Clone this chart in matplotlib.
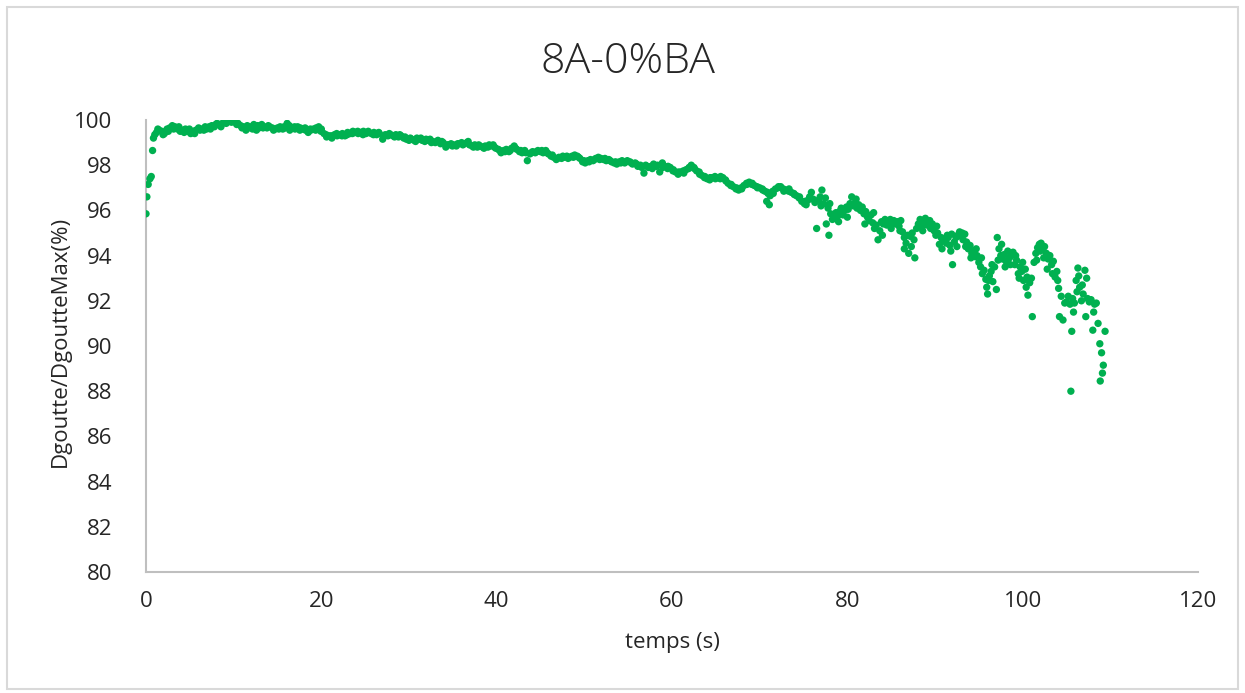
import matplotlib
matplotlib.use("Agg")
import matplotlib.pyplot as plt
from matplotlib.patches import Rectangle

# ---- data (time in s, Dgoutte/DgoutteMax in %) ----
t_rise = [0.0, 0.1, 0.25, 0.45, 0.6, 0.75, 0.85, 1.0]
v_rise = [95.85, 96.6, 97.15, 97.4, 97.5, 98.65, 99.2, 99.35]

t_plateau = [1.2, 1.5, 1.8, 2.1, 2.4, 2.7, 3.0, 3.3, 3.6, 3.9, 4.2, 4.5, 4.8, 5.1, 5.4, 5.7,
             6.0, 6.3, 6.6, 6.9, 7.2, 7.5, 7.8, 8.1, 8.4, 8.7, 9.0, 9.3, 9.6, 9.9, 10.2, 10.5,
             10.8, 11.1, 11.4, 11.7, 12.0, 12.3, 12.6, 12.9, 13.2, 13.5, 13.8, 14.1, 14.4, 14.7,
             15.0, 15.3, 15.6, 15.9, 16.1, 16.4, 16.7, 17.0, 17.3, 17.6, 17.9, 18.2, 18.5, 18.8,
             19.1, 19.4, 19.7, 20.0, 20.3, 20.6, 20.9, 21.2, 21.5, 21.8, 22.1, 22.4, 22.7, 23.0,
             23.3, 23.6, 23.9, 24.2, 24.5, 24.8, 25.1, 25.4, 25.7, 26.0, 26.3, 26.6, 27.0, 27.3,
             27.6, 27.9, 28.2, 28.5, 28.8, 29.1, 29.4, 29.7]
v_plateau = [99.45, 99.55, 99.5, 99.4, 99.6, 99.65, 99.75, 99.7, 99.6, 99.5, 99.55, 99.6, 99.5,
             99.4, 99.5, 99.55, 99.65, 99.6, 99.55, 99.6, 99.7, 99.75, 99.7, 99.85, 99.8, 99.85,
             99.9, 99.95, 100.0, 99.95, 99.9, 99.85, 99.75, 99.7, 99.55, 99.65, 99.7, 99.8, 99.55,
             99.65, 99.8, 99.7, 99.65, 99.7, 99.65, 99.6, 99.65, 99.7, 99.6, 99.65, 99.85, 99.55,
             99.65, 99.6, 99.7, 99.65, 99.6, 99.55, 99.45, 99.55, 99.6, 99.65, 99.7, 99.6, 99.4,
             99.25, 99.3, 99.2, 99.35, 99.3, 99.35, 99.4, 99.3, 99.45, 99.4, 99.5, 99.45, 99.4,
             99.45, 99.5, 99.4, 99.45, 99.4, 99.45, 99.35, 99.4, 99.15, 99.35, 99.3, 99.35, 99.3,
             99.35, 99.25, 99.3, 99.2, 99.15]

t_decline = [30.0, 30.3, 30.6, 30.9, 31.2, 31.5, 31.8, 32.1, 32.4, 32.7, 33.0, 33.3, 33.6, 33.9,
             34.2, 34.5, 34.8, 35.1, 35.4, 35.7, 36.0, 36.3, 36.6, 36.9, 37.2, 37.5, 37.8, 38.1,
             38.4, 38.7, 39.0, 39.3, 39.6, 39.9, 40.2, 40.5, 40.8, 41.1, 41.4, 41.7, 42.0, 42.3,
             42.6, 42.9, 43.2, 43.5, 43.8, 44.1, 44.4, 44.7, 45.0, 45.3, 45.6, 45.9, 46.2, 46.5,
             46.8, 47.1, 47.4, 47.7, 48.0, 48.3, 48.6, 48.9, 49.2, 49.5, 49.8, 50.1, 50.4, 50.7,
             51.0, 51.3, 51.6, 51.9, 52.2, 52.5, 52.8, 53.1, 53.4, 53.7, 54.0, 54.3, 54.6, 54.9,
             55.2, 55.5, 55.8, 56.1, 56.4, 56.8, 57.0, 57.3, 57.6, 57.9, 58.2, 58.6, 58.9, 59.2,
             59.5, 59.8, 60.1, 60.4, 60.7, 61.0, 61.3, 61.6, 61.9, 62.2, 62.5, 62.8, 63.1, 63.4,
             63.7, 64.0, 64.3, 64.6, 64.9, 65.2, 65.5, 65.8, 66.1, 66.4, 66.7, 67.0, 67.3, 67.6,
             67.9, 68.2, 68.5, 68.8, 69.1, 69.4, 69.7, 70.0, 70.3, 70.6, 70.8, 70.9, 71.1, 71.2,
             71.5, 71.8, 72.1, 72.4, 72.7, 73.0, 73.3, 73.6, 73.9, 74.2, 74.5, 74.8, 75.1]
v_decline = [99.1, 99.15, 99.1, 99.2, 99.15, 99.1, 99.05, 99.1, 99.15, 99.05, 99.0, 99.1, 98.95,
             99.0, 98.8, 98.9, 98.95, 98.9, 98.85, 98.95, 99.0, 98.95, 99.0, 98.9, 98.85, 98.9,
             98.8, 98.85, 98.8, 98.85, 98.8, 98.85, 98.9, 98.75, 98.7, 98.55, 98.65, 98.7, 98.6,
             98.75, 98.85, 98.7, 98.6, 98.55, 98.65, 98.2, 98.5, 98.6, 98.55, 98.65, 98.6, 98.55,
             98.65, 98.5, 98.4, 98.35, 98.25, 98.35, 98.3, 98.35, 98.4, 98.35, 98.4, 98.45, 98.4,
             98.3, 98.15, 98.1, 98.2, 98.25, 98.2, 98.3, 98.35, 98.3, 98.25, 98.2, 98.25, 98.15,
             98.1, 98.05, 98.15, 98.2, 98.1, 98.2, 98.15, 98.05, 98.1, 97.95, 98.0, 97.65, 98.0,
             97.9, 97.95, 98.05, 97.95, 97.7, 98.1, 97.95, 97.85, 97.9, 97.75, 97.7, 97.6, 97.7,
             97.75, 97.8, 97.85, 98.0, 97.9, 97.75, 97.7, 97.55, 97.45, 97.4, 97.35, 97.45, 97.5,
             97.45, 97.4, 97.45, 97.35, 97.2, 97.1, 97.05, 96.95, 96.9, 97.0, 97.1, 97.2, 97.25,
             97.15, 97.1, 97.05, 97.0, 96.95, 96.85, 96.4, 96.8, 96.25, 96.65, 96.85, 96.95, 97.0,
             97.05, 96.95, 96.9, 96.85, 96.8, 96.75, 96.65, 96.55, 96.4, 96.3]

# second pass of samples through the same band (the band is several points thick)
t_band = [1.35, 1.95, 2.55, 3.15, 3.75, 4.35, 4.95, 5.55, 6.15, 6.75,
          7.35, 7.95, 8.55, 9.15, 9.75, 10.35, 10.95, 11.55, 12.15, 12.75,
          13.35, 13.95, 14.55, 15.15, 15.75, 16.35, 16.95, 17.55, 18.15, 18.75,
          19.35, 19.95, 20.55, 21.15, 21.75, 22.35, 22.95, 23.55, 24.15, 24.75,
          25.35, 25.95, 26.55, 27.15, 27.75, 28.35, 28.95, 29.55, 30.15, 30.75,
          31.35, 31.95, 32.55, 33.15, 33.75, 34.35, 34.95, 35.55, 36.15, 36.75,
          37.35, 37.95, 38.55, 39.15, 39.75, 40.35, 40.95, 41.55, 42.15, 42.75,
          43.35, 43.95, 44.55, 45.15, 45.75, 46.35, 46.95, 47.55, 48.15, 48.75,
          49.35, 49.95, 50.55, 51.15, 51.75, 52.35, 52.95, 53.55, 54.15, 54.75,
          55.35, 55.95, 56.55, 57.15, 57.75, 58.35, 58.95, 59.55, 60.15, 60.75,
          61.35, 61.95, 62.55, 63.15, 63.75, 64.35, 64.95, 65.55, 66.15, 66.75,
          67.35, 67.95, 68.55, 69.15, 69.75, 70.35, 70.95, 71.55, 72.15, 72.75,
          73.35, 73.95, 74.55, 75.15]
v_band = [99.6, 99.35, 99.5, 99.6, 99.7, 99.45, 99.6, 99.4, 99.55, 99.7,
          99.6, 99.8, 99.7, 99.85, 99.9, 99.8, 99.65, 99.75, 99.6, 99.75,
          99.65, 99.75, 99.55, 99.6, 99.7, 99.75, 99.7, 99.55, 99.65, 99.6,
          99.55, 99.5, 99.35, 99.3, 99.4, 99.3, 99.35, 99.4, 99.5, 99.35,
          99.5, 99.35, 99.45, 99.3, 99.4, 99.25, 99.35, 99.25, 99.2, 99.05,
          99.2, 99.15, 99.0, 99.05, 99.05, 98.9, 98.85, 98.95, 98.9, 99.05,
          98.8, 98.9, 98.75, 98.9, 98.8, 98.65, 98.6, 98.65, 98.75, 98.65,
          98.55, 98.55, 98.6, 98.65, 98.55, 98.45, 98.3, 98.4, 98.3, 98.35,
          98.35, 98.2, 98.15, 98.25, 98.25, 98.3, 98.2, 98.15, 98.1, 98.15,
          98.1, 98.05, 97.9, 97.95, 97.85, 98.0, 97.9, 97.95, 97.8, 97.7,
          97.65, 97.9, 97.85, 97.6, 97.5, 97.45, 97.4, 97.5, 97.3, 97.15,
          97.0, 96.95, 97.15, 97.2, 97.0, 96.9, 96.75, 96.75, 97.05, 96.85,
          96.95, 96.7, 96.6, 96.4]

t_tail = [75.3, 75.5, 75.7, 75.9, 76.1, 76.3, 76.5, 76.7, 76.9, 77.1, 77.3, 77.5, 77.6, 77.8,
          77.9, 78.1, 78.3, 78.5, 78.7, 78.9, 79.1, 79.3, 79.5, 79.7, 79.9, 80.1, 80.3, 80.5,
          80.7, 80.9, 81.1, 81.3, 81.5, 81.7, 81.9, 82.1, 82.3, 82.5, 82.7, 82.9, 83.1, 83.3,
          83.5, 83.7, 83.9, 84.1, 84.3, 84.5, 84.7, 84.9, 85.1, 85.3, 85.5, 85.7, 85.9, 86.1,
          86.3, 86.5, 86.7, 86.9, 87.0, 87.2, 87.4, 87.6, 87.7, 87.9, 88.1, 88.3, 88.5, 88.7,
          88.9, 89.1, 89.3, 89.5, 89.7, 89.9, 90.1, 90.3, 90.5, 90.7, 90.9, 91.1, 91.3, 91.5,
          91.7, 91.9, 92.0, 92.2, 92.4, 92.6, 92.8, 93.0, 93.2, 93.4, 93.6, 93.8, 94.0, 94.2,
          94.4, 94.6, 94.8, 95.0, 95.2, 95.4, 95.6, 95.8, 95.9, 96.0, 96.2, 96.4, 96.6, 96.8,
          97.0, 97.1, 97.3, 97.5, 97.7, 97.9, 98.1, 98.3, 98.5, 98.7, 98.9, 99.1, 99.3, 99.5,
          99.7, 99.9, 100.1, 100.3, 100.5, 100.6, 100.8, 101.0, 101.1, 101.3, 101.5, 101.7,
          101.9, 102.1, 102.3, 102.5, 102.7, 102.9, 103.1, 103.3, 103.5, 103.7, 103.9, 104.1,
          104.2, 104.4, 104.6, 104.8, 105.0, 105.2, 105.4, 105.5, 105.6, 105.7, 105.9, 106.1,
          106.3, 106.4, 106.5, 106.7, 106.9, 107.1, 107.2, 107.4, 107.6, 107.8, 108.0, 108.2,
          108.4, 108.6, 108.8, 108.85, 109.0, 109.1, 109.2, 109.4]
v_tail = [96.25, 96.45, 96.6, 96.8, 96.5, 96.35, 95.2, 96.45, 96.6, 96.9, 96.3, 96.55, 95.4, 96.1,
          94.9, 95.85, 95.6, 95.7, 95.9, 95.75, 95.95, 96.1, 95.8, 96.0, 96.15, 96.05, 96.3, 96.6,
          96.2, 96.35, 96.1, 96.25, 96.0, 96.15, 95.85, 95.95, 95.7, 95.55, 95.8, 95.45, 95.2,
          95.35, 94.7, 95.1, 95.5, 95.4, 95.6, 95.35, 95.5, 95.6, 95.45, 95.55, 95.4, 95.5, 95.3,
          95.55, 95.05, 94.8, 94.55, 94.9, 94.1, 94.85, 95.0, 94.7, 93.9, 95.2, 95.4, 95.6, 95.3,
          95.45, 95.65, 95.35, 95.5, 95.2, 95.4, 95.1, 94.9, 95.0, 94.5, 94.8, 94.65, 94.7, 94.55,
          94.8, 94.45, 94.95, 93.6, 94.6, 94.8, 94.9, 95.05, 94.85, 94.7, 94.95, 94.6, 94.3, 94.45,
          94.1, 94.2, 93.95, 94.0, 93.7, 93.5, 93.2, 93.35, 92.95, 92.6, 92.3, 93.1, 93.3, 92.85,
          93.5, 92.5, 94.8, 94.3, 94.0, 93.85, 94.05, 93.75, 94.2, 93.9, 94.0, 94.15, 93.6, 93.8,
          93.2, 93.5, 93.3, 92.9, 93.4, 93.05, 92.25, 92.8, 93.0, 91.3, 93.7, 94.1, 94.35, 94.5,
          94.55, 94.3, 94.4, 94.1, 93.85, 94.0, 93.6, 93.75, 93.05, 93.3, 92.55, 91.3, 92.2,
          91.15, 91.9, 91.95, 92.2, 91.85, 88.0, 90.65, 92.1, 91.9, 92.9, 93.45, 93.1, 92.6, 92.0,
          92.3, 93.35, 91.3, 92.1, 91.95, 92.05, 90.7, 91.85, 91.9, 91.0, 90.1, 88.45, 89.7,
          88.8, 89.15, 90.65]

# extra scattered samples in the noisy end of the run
t_extra = [77.0, 78.0, 79.0, 80.0, 81.0, 82.0, 83.0, 84.0, 85.0, 86.0,
           86.5, 87.3, 88.6, 89.4, 90.2, 90.8, 91.4, 91.8, 92.5, 93.1,
           93.5, 94.1, 94.7, 95.3, 96.1, 96.5, 97.2, 97.6, 98.0, 98.6,
           99.2, 99.6, 100.0, 100.4, 101.6, 102.0, 102.4, 102.8, 103.4, 104.0,
           105.8, 106.2, 106.8, 107.3, 108.1]
v_extra = [96.2, 96.3, 95.5, 95.7, 96.5, 95.4, 95.9, 94.9, 95.2, 95.1,
           94.3, 94.4, 95.1, 95.55, 95.3, 94.3, 94.9, 94.2, 94.4, 95.0,
           94.4, 93.9, 94.3, 93.9, 92.9, 93.6, 93.8, 94.5, 93.5, 93.6,
           94.0, 93.0, 93.7, 92.6, 93.8, 94.2, 93.9, 93.4, 93.2, 92.9,
           91.5, 92.4, 92.7, 93.0, 91.5]

x_ticks = [0, 20, 40, 60, 80, 100, 120]
y_ticks = [80, 82, 84, 86, 88, 90, 92, 94, 96, 98, 100]

title = "8A-0%BA"
x_label = "temps (s)"
y_label = "Dgoutte/DgoutteMax(%)"

# ---- drawing ----
plt.rcParams['font.family'] = ['Open Sans', 'DejaVu Sans']
W, H = 1245, 693
fig = plt.figure(figsize=(W / 100, H / 100), dpi=100)
ax = fig.add_axes([146 / W, 1 - 572 / H, (1198 - 146) / W, (572 - 120) / H])

green = "#00B050"
t_all = t_rise + t_plateau + t_band + t_decline + t_tail + t_extra
v_all = v_rise + v_plateau + v_band + v_decline + v_tail + v_extra
ax.scatter(t_all, v_all, s=28, color=green, edgecolors="none", zorder=3)

ax.set_xlim(0, 120)
ax.set_ylim(80, 100)
ax.set_xticks(x_ticks)
ax.set_yticks(y_ticks)
ax.tick_params(axis="both", length=0, labelsize=16, colors="#262626")
ax.tick_params(axis="x", pad=14)
ax.tick_params(axis="y", pad=24)
for side in ("top", "right"):
    ax.spines[side].set_visible(False)
for side in ("left", "bottom"):
    ax.spines[side].set_color("#bfbfbf")
    ax.spines[side].set_linewidth(1.5)

ax.set_xlabel(x_label, fontsize=16, color="#262626", labelpad=14)
fig.text(60 / W, 1 - 341 / H, y_label, rotation=90, ha="center", va="center",
         fontsize=16, color="#262626")
fig.text(628 / W, 1 - 62 / H, title, ha="center", va="center", fontsize=31,
         fontweight="light", color="#262626")

fig.patches.append(Rectangle((7 / W, 4 / H), 1231 / W, 682 / H, transform=fig.transFigure,
                             fill=False, edgecolor="#d9d9d9", linewidth=1.5))

fig.savefig("out.png", dpi=100, facecolor="white")
